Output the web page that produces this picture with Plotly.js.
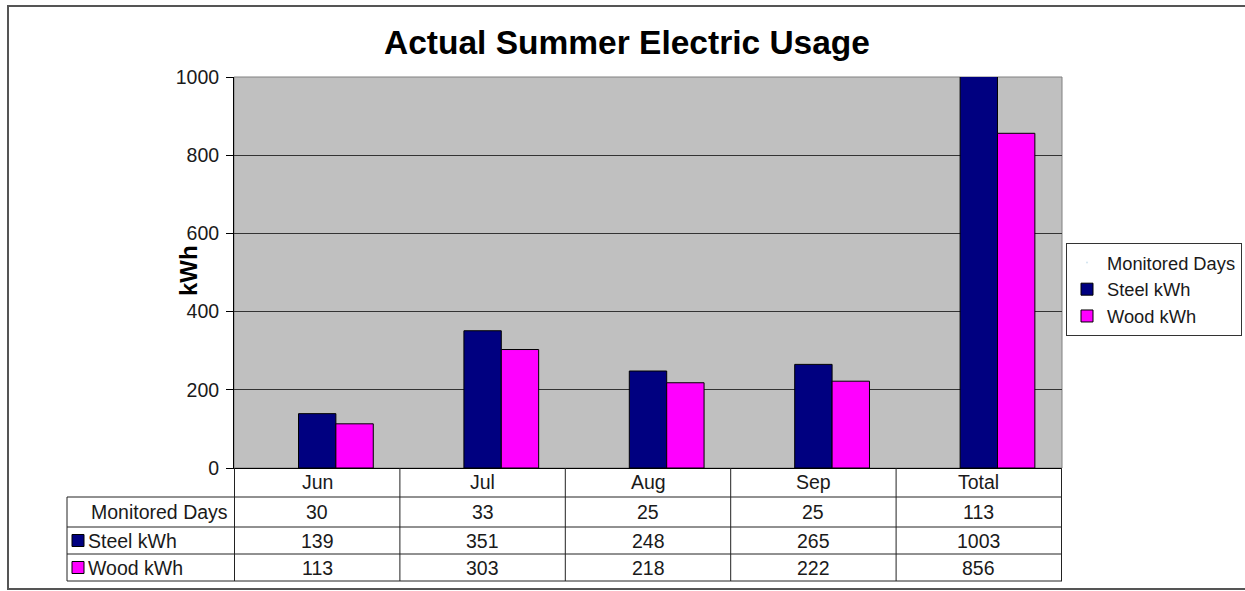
<!DOCTYPE html>
<html>
<head>
<meta charset="utf-8">
<script src="https://cdn.plot.ly/plotly-3.0.1.min.js"></script>
<style>
html,body{margin:0;padding:0;background:#fff;}
#chart{width:1245px;height:591px;}
</style>
</head>
<body>
<div id="chart"></div>
<script>
const categories = ['Jun', 'Jul', 'Aug', 'Sep', 'Total'];
const monitoredDays = [30, 33, 25, 25, 113];
const steelKWh = [139, 351, 248, 265, 1003];
const woodKWh = [113, 303, 218, 222, 856];
const rowLabels = ['Monitored Days', 'Steel kWh', 'Wood kWh'];
const yTicks = [0, 200, 400, 600, 800, 1000];

const W = 1245, H = 591;
const M = {l: 234, r: 183, t: 77, b: 123, autoexpand: false};
const PW = W - M.l - M.r, PH = H - M.t - M.b;
const xp = px => (px - M.l) / PW;
const yp = py => (H - M.b - py) / PH;

const FONT = 'Liberation Sans, Arial, sans-serif';
const TXT = '#1a1a1a';
const FS = 19.5;
const steelColor = '#000080';
const woodColor = '#ff00ff';
const BW = 0.226;

const traces = [
  {type: 'scatter', mode: 'markers', name: rowLabels[0], x: categories, y: monitoredDays,
   marker: {opacity: 0, size: 1}, hoverinfo: 'skip'},
  {type: 'bar', name: rowLabels[1], x: categories, y: steelKWh, width: BW, offset: -BW / 2,
   marker: {color: steelColor, line: {color: '#000', width: 1}}},
  {type: 'bar', name: rowLabels[2], x: categories, y: woodKWh, width: BW, offset: BW / 2,
   marker: {color: woodColor, line: {color: '#000', width: 1}}}
];

// table geometry (pixels)
const rowEdges = [468, 497, 527, 554, 581];
const tableLeft = 67;
const n = categories.length;
const shapes = [];
const annotations = [];
const lineStyle = {color: '#222', width: 1};

for (let i = 0; i <= n; i++) {
  shapes.push({type: 'line', xref: 'x', yref: 'paper', x0: i - 0.5, x1: i - 0.5,
    y0: yp(rowEdges[0]), y1: yp(rowEdges[4]), line: lineStyle});
}
for (let r = 1; r < rowEdges.length; r++) {
  shapes.push({type: 'line', xref: 'paper', yref: 'paper', x0: xp(tableLeft), x1: 1,
    y0: yp(rowEdges[r]), y1: yp(rowEdges[r]), line: lineStyle});
}
shapes.push({type: 'line', xref: 'paper', yref: 'paper', x0: xp(tableLeft), x1: xp(tableLeft),
  y0: yp(rowEdges[1]), y1: yp(rowEdges[4]), line: lineStyle});
// outer chart frame
shapes.push({type: 'rect', xref: 'paper', yref: 'paper', x0: xp(8), x1: xp(1270),
  y0: yp(589), y1: yp(6), line: {color: '#555', width: 2}, layer: 'below'});

const rowMid = r => yp((rowEdges[r] + rowEdges[r + 1]) / 2);
const rows = [categories, monitoredDays, steelKWh, woodKWh];
rows.forEach((vals, r) => {
  vals.forEach((v, i) => {
    annotations.push({xref: 'x', yref: 'paper', x: categories[i], y: rowMid(r),
      text: String(v), showarrow: false, xanchor: 'center', yanchor: 'middle',
      font: {family: FONT, size: FS, color: TXT}});
  });
});
annotations.push({xref: 'paper', yref: 'paper', x: xp(230), y: rowMid(1), text: rowLabels[0],
  showarrow: false, xanchor: 'right', yanchor: 'middle', font: {family: FONT, size: FS, color: TXT}});
[[rowLabels[1], steelColor, 2], [rowLabels[2], woodColor, 3]].forEach(([lab, col, r]) => {
  const cy = (rowEdges[r] + rowEdges[r + 1]) / 2;
  shapes.push({type: 'rect', xref: 'paper', yref: 'paper', x0: xp(72), x1: xp(84),
    y0: yp(cy + 6), y1: yp(cy - 6), fillcolor: col, line: {color: '#000', width: 1}});
  annotations.push({xref: 'paper', yref: 'paper', x: xp(86), y: yp(cy), text: lab,
    showarrow: false, xanchor: 'left', yanchor: 'middle', font: {family: FONT, size: FS, color: TXT}});
});
// y-axis title
annotations.push({xref: 'paper', yref: 'paper', x: xp(188), y: yp(271), text: '<b>kWh</b>',
  textangle: -90, showarrow: false, xanchor: 'center', yanchor: 'middle',
  font: {family: FONT, size: 24, color: '#000'}});
// plot-area border
shapes.push({type: 'rect', xref: 'paper', yref: 'paper', x0: 0, x1: 1, y0: 0, y1: 1,
  line: {color: '#808080', width: 1}, layer: 'below'});

const layout = {
  width: W, height: H,
  margin: M,
  paper_bgcolor: '#ffffff',
  plot_bgcolor: '#c0c0c0',
  font: {family: FONT, size: FS, color: TXT},
  title: {text: 'Actual Summer Electric Usage', xref: 'container', yref: 'container',
    x: 627 / W, y: 1 - 42 / H, xanchor: 'center', yanchor: 'middle',
    font: {family: FONT, size: 33.5, color: '#000', weight: 'bold'}},
  barmode: 'group',
  showlegend: true,
  legend: {x: xp(1066), y: yp(243), xanchor: 'left', yanchor: 'top',
    bgcolor: '#fff', bordercolor: '#333', borderwidth: 1,
    font: {family: FONT, size: 18.3, color: TXT}, tracegroupgap: 0, traceorder: 'normal'},
  xaxis: {type: 'category', showticklabels: false, ticks: '', showgrid: false,
    showline: true, linecolor: '#000', linewidth: 1, zeroline: false, fixedrange: true},
  yaxis: {range: [0, 1000], tickvals: yTicks, ticktext: yTicks.map(String),
    ticks: 'outside', ticklen: 7, tickcolor: '#000', showline: true, linecolor: '#000', linewidth: 1,
    ticklabelstandoff: 3,
    showgrid: true, gridcolor: '#333', gridwidth: 1, zeroline: false,
    tickfont: {family: FONT, size: FS, color: TXT}},
  shapes: shapes,
  annotations: annotations
};

Plotly.newPlot('chart', traces, layout, {displayModeBar: false, staticPlot: true});
</script>
</body>
</html>
